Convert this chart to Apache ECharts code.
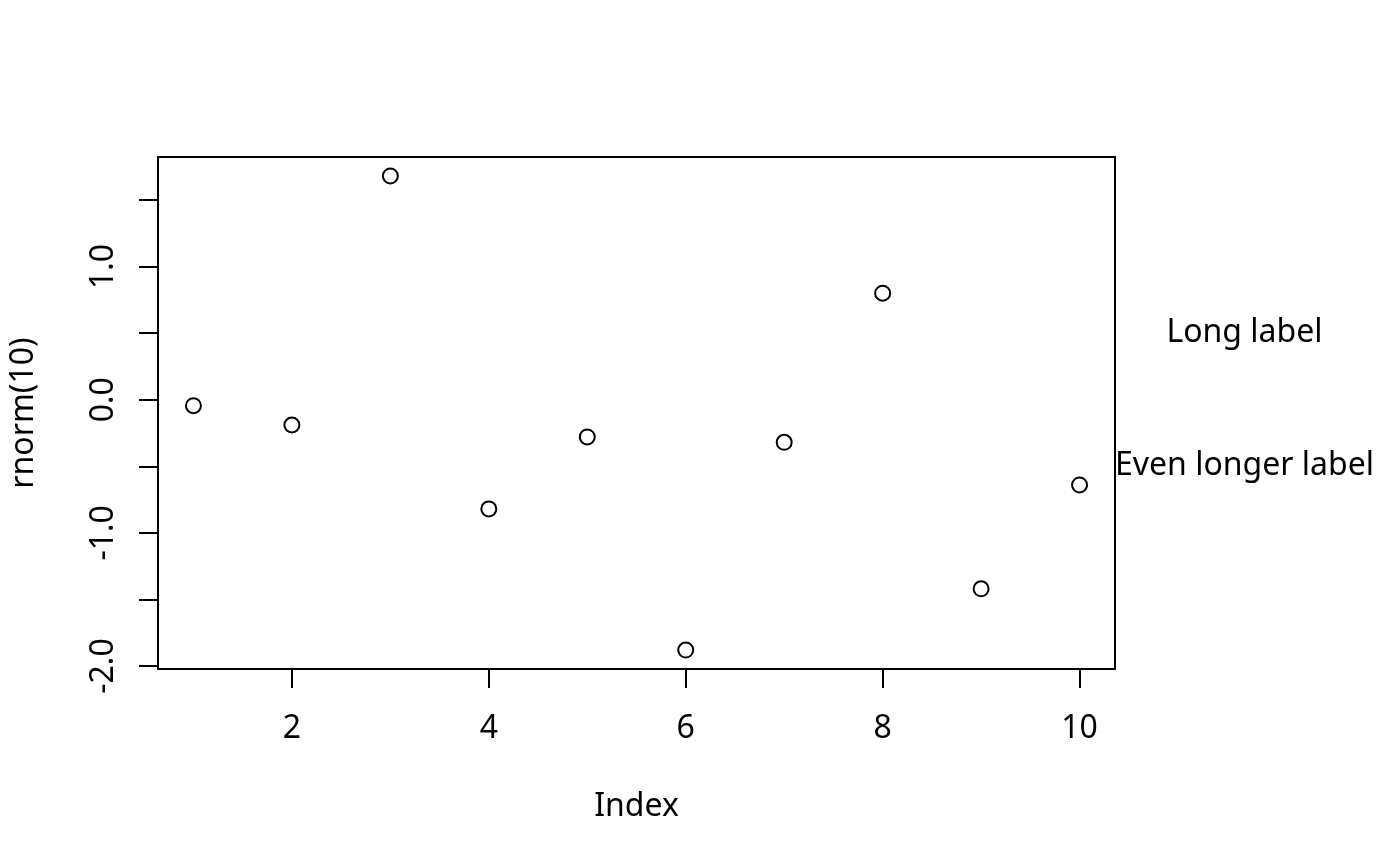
<!DOCTYPE html>
<html>
<head>
<meta charset="utf-8">
<script src="https://cdn.jsdelivr.net/npm/echarts@6/dist/echarts.min.js"></script>
<style>
html,body{margin:0;padding:0;background:#fff;}
#chart{width:1400px;height:866px;}
</style>
</head>
<body>
<div id="chart"></div>
<script>
// Data
const indexValues = [1, 2, 3, 4, 5, 6, 7, 8, 9, 10];
const rnormValues = [-0.045, -0.19, 1.68, -0.82, -0.28, -1.88, -0.32, 0.80, -1.42, -0.64];
const xTicks = [2, 4, 6, 8, 10];
const yTicks = [-2.0, -1.5, -1.0, -0.5, 0.0, 0.5, 1.0, 1.5];
const yTickLabels = [-2.0, -1.0, 0.0, 1.0];
const noteTexts = ['Long label', 'Even longer label'];
const noteX = [11.68, 11.68];
const noteY = [0.5, -0.5];

const xMin = 0.64, xMax = 10.36;
const yMin = -2.0224, yMax = 1.8224;

const FONT = 'Noto Sans';
const FS = 32;

const chart = echarts.init(document.getElementById('chart'), null, {renderer: 'canvas'});
chart.setOption({
  animation: false,
  backgroundColor: '#ffffff',
  grid: {
    left: 157, top: 157, right: 285, bottom: 197,
    show: true, borderColor: '#000', borderWidth: 2, backgroundColor: 'transparent'
  },
  xAxis: {
    type: 'value', min: xMin, max: xMax,
    name: 'Index', nameLocation: 'middle', nameGap: 122,
    nameTextStyle: {fontFamily: FONT, fontSize: FS, color: '#000'},
    axisLine: {show: false, onZero: false},
    splitLine: {show: false},
    axisTick: {show: true, inside: false, length: 19, lineStyle: {color: '#000', width: 2}, customValues: xTicks},
    axisLabel: {show: true, margin: 44, fontFamily: FONT, fontSize: FS, color: '#000', customValues: xTicks,
      formatter: v => String(v)}
  },
  yAxis: {
    type: 'value', min: yMin, max: yMax,
    name: 'rnorm(10)', nameLocation: 'middle', nameGap: 118, nameRotate: 90,
    nameTextStyle: {fontFamily: FONT, fontSize: FS, color: '#000'},
    axisLine: {show: false, onZero: false},
    splitLine: {show: false},
    axisTick: {show: true, inside: false, length: 19, lineStyle: {color: '#000', width: 2}, customValues: yTicks},
    axisLabel: {show: true, rotate: 90, margin: 38, fontFamily: FONT, fontSize: FS, color: '#000', customValues: yTickLabels,
      formatter: v => Number(v).toFixed(1)}
  },
  series: [
    {
      type: 'scatter',
      data: indexValues.map((x, i) => [x, rnormValues[i]]),
      symbol: 'circle',
      symbolSize: 15,
      itemStyle: {color: 'rgba(255,255,255,0)', borderColor: '#000', borderWidth: 2, opacity: 1},
      emphasis: {disabled: true},
      silent: true
    },
    {
      type: 'scatter',
      clip: false,
      data: noteTexts.map((t, i) => ({value: [noteX[i], noteY[i]], name: t})),
      symbolSize: 1,
      itemStyle: {color: 'rgba(255,255,255,0)', opacity: 1},
      label: {show: true, position: [0, 0], formatter: p => p.name,
        fontFamily: FONT, fontSize: FS, color: '#000000', align: 'center', verticalAlign: 'middle'},
      emphasis: {disabled: true},
      silent: true
    }
  ]
});
</script>
</body>
</html>
